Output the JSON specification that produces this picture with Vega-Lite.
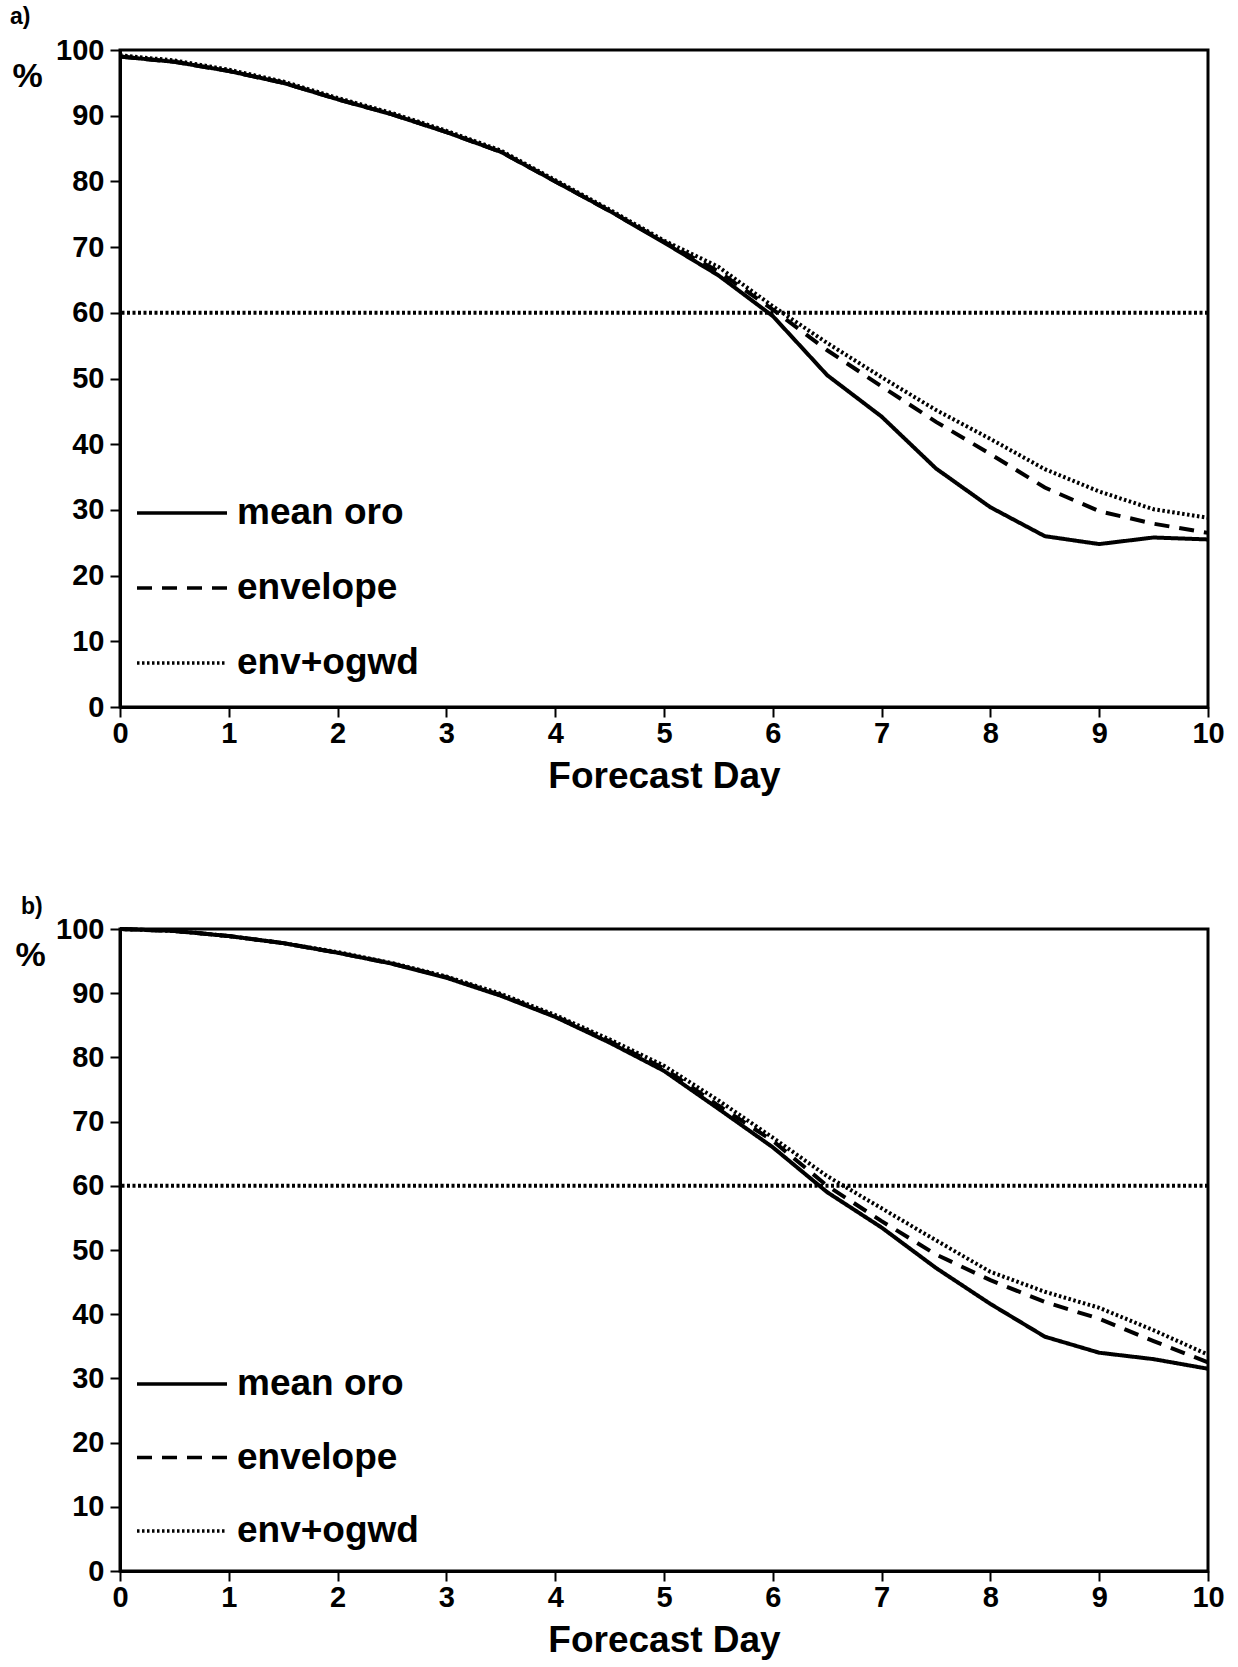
{
  "$schema": "https://vega.github.io/schema/vega-lite/v6.json",
  "background": "white",
  "padding": {"left": 8, "top": 4, "right": 20, "bottom": 10},
  "config": {
    "font": "Liberation Sans",
    "view": {"stroke": "black", "strokeWidth": 3},
    "axis": {
      "domainColor": "black", "domainWidth": 3, "tickColor": "black", "tickWidth": 2, "tickSize": 10,
      "labelFont": "Liberation Sans", "labelFontSize": 29, "labelFontWeight": "bold", "labelColor": "black", "labelFlush": false,
      "titleFont": "Liberation Sans", "titleFontWeight": "bold", "titleColor": "black", "grid": false
    },
    "title": {"font": "Liberation Sans", "fontSize": 23, "fontWeight": "bold", "color": "black"}
  },
  "datasets": {
    "a": [
      {"day": 0, "value": 99, "series": "mean oro"}, {"day": 0.5, "value": 98.2, "series": "mean oro"}, {"day": 1, "value": 96.8, "series": "mean oro"}, {"day": 1.5, "value": 95, "series": "mean oro"}, {"day": 2, "value": 92.5, "series": "mean oro"}, {"day": 2.5, "value": 90.2, "series": "mean oro"}, {"day": 3, "value": 87.5, "series": "mean oro"}, {"day": 3.5, "value": 84.5, "series": "mean oro"}, {"day": 4, "value": 80, "series": "mean oro"}, {"day": 4.5, "value": 75.5, "series": "mean oro"}, {"day": 5, "value": 70.7, "series": "mean oro"}, {"day": 5.5, "value": 65.7, "series": "mean oro"}, {"day": 6, "value": 59.5, "series": "mean oro"}, {"day": 6.5, "value": 50.5, "series": "mean oro"}, {"day": 7, "value": 44.2, "series": "mean oro"}, {"day": 7.5, "value": 36.3, "series": "mean oro"}, {"day": 8, "value": 30.4, "series": "mean oro"}, {"day": 8.5, "value": 26, "series": "mean oro"}, {"day": 9, "value": 24.8, "series": "mean oro"}, {"day": 9.5, "value": 25.8, "series": "mean oro"}, {"day": 10, "value": 25.5, "series": "mean oro"},
      {"day": 0, "value": 99, "series": "envelope"}, {"day": 0.5, "value": 98.2, "series": "envelope"}, {"day": 1, "value": 96.8, "series": "envelope"}, {"day": 1.5, "value": 95, "series": "envelope"}, {"day": 2, "value": 92.5, "series": "envelope"}, {"day": 2.5, "value": 90.2, "series": "envelope"}, {"day": 3, "value": 87.5, "series": "envelope"}, {"day": 3.5, "value": 84.5, "series": "envelope"}, {"day": 4, "value": 80, "series": "envelope"}, {"day": 4.5, "value": 75.5, "series": "envelope"}, {"day": 5, "value": 70.8, "series": "envelope"}, {"day": 5.5, "value": 66.3, "series": "envelope"}, {"day": 6, "value": 60.5, "series": "envelope"}, {"day": 6.5, "value": 54.3, "series": "envelope"}, {"day": 7, "value": 48.8, "series": "envelope"}, {"day": 7.5, "value": 43.4, "series": "envelope"}, {"day": 8, "value": 38.5, "series": "envelope"}, {"day": 8.5, "value": 33.4, "series": "envelope"}, {"day": 9, "value": 29.8, "series": "envelope"}, {"day": 9.5, "value": 27.9, "series": "envelope"}, {"day": 10, "value": 26.5, "series": "envelope"},
      {"day": 0, "value": 99.2, "series": "env+ogwd"}, {"day": 0.5, "value": 98.4, "series": "env+ogwd"}, {"day": 1, "value": 97, "series": "env+ogwd"}, {"day": 1.5, "value": 95.2, "series": "env+ogwd"}, {"day": 2, "value": 92.7, "series": "env+ogwd"}, {"day": 2.5, "value": 90.4, "series": "env+ogwd"}, {"day": 3, "value": 87.7, "series": "env+ogwd"}, {"day": 3.5, "value": 84.7, "series": "env+ogwd"}, {"day": 4, "value": 80.2, "series": "env+ogwd"}, {"day": 4.5, "value": 75.7, "series": "env+ogwd"}, {"day": 5, "value": 71, "series": "env+ogwd"}, {"day": 5.5, "value": 67, "series": "env+ogwd"}, {"day": 6, "value": 61, "series": "env+ogwd"}, {"day": 6.5, "value": 55.4, "series": "env+ogwd"}, {"day": 7, "value": 50.2, "series": "env+ogwd"}, {"day": 7.5, "value": 45.2, "series": "env+ogwd"}, {"day": 8, "value": 40.8, "series": "env+ogwd"}, {"day": 8.5, "value": 36.2, "series": "env+ogwd"}, {"day": 9, "value": 32.8, "series": "env+ogwd"}, {"day": 9.5, "value": 30.1, "series": "env+ogwd"}, {"day": 10, "value": 28.8, "series": "env+ogwd"}
    ],
    "b": [
      {"day": 0, "value": 100, "series": "mean oro"}, {"day": 0.5, "value": 99.7, "series": "mean oro"}, {"day": 1, "value": 98.9, "series": "mean oro"}, {"day": 1.5, "value": 97.8, "series": "mean oro"}, {"day": 2, "value": 96.3, "series": "mean oro"}, {"day": 2.5, "value": 94.6, "series": "mean oro"}, {"day": 3, "value": 92.4, "series": "mean oro"}, {"day": 3.5, "value": 89.6, "series": "mean oro"}, {"day": 4, "value": 86.3, "series": "mean oro"}, {"day": 4.5, "value": 82.3, "series": "mean oro"}, {"day": 5, "value": 77.9, "series": "mean oro"}, {"day": 5.5, "value": 72, "series": "mean oro"}, {"day": 6, "value": 66, "series": "mean oro"}, {"day": 6.5, "value": 59, "series": "mean oro"}, {"day": 7, "value": 53.5, "series": "mean oro"}, {"day": 7.5, "value": 47.2, "series": "mean oro"}, {"day": 8, "value": 41.6, "series": "mean oro"}, {"day": 8.5, "value": 36.5, "series": "mean oro"}, {"day": 9, "value": 34, "series": "mean oro"}, {"day": 9.5, "value": 33, "series": "mean oro"}, {"day": 10, "value": 31.5, "series": "mean oro"},
      {"day": 0, "value": 100, "series": "envelope"}, {"day": 0.5, "value": 99.7, "series": "envelope"}, {"day": 1, "value": 98.9, "series": "envelope"}, {"day": 1.5, "value": 97.8, "series": "envelope"}, {"day": 2, "value": 96.3, "series": "envelope"}, {"day": 2.5, "value": 94.6, "series": "envelope"}, {"day": 3, "value": 92.5, "series": "envelope"}, {"day": 3.5, "value": 89.7, "series": "envelope"}, {"day": 4, "value": 86.4, "series": "envelope"}, {"day": 4.5, "value": 82.5, "series": "envelope"}, {"day": 5, "value": 78.3, "series": "envelope"}, {"day": 5.5, "value": 72.5, "series": "envelope"}, {"day": 6, "value": 67, "series": "envelope"}, {"day": 6.5, "value": 60, "series": "envelope"}, {"day": 7, "value": 54.5, "series": "envelope"}, {"day": 7.5, "value": 49.3, "series": "envelope"}, {"day": 8, "value": 45.3, "series": "envelope"}, {"day": 8.5, "value": 41.9, "series": "envelope"}, {"day": 9, "value": 39.3, "series": "envelope"}, {"day": 9.5, "value": 35.8, "series": "envelope"}, {"day": 10, "value": 32.5, "series": "envelope"},
      {"day": 0, "value": 100, "series": "env+ogwd"}, {"day": 0.5, "value": 99.7, "series": "env+ogwd"}, {"day": 1, "value": 98.9, "series": "env+ogwd"}, {"day": 1.5, "value": 97.8, "series": "env+ogwd"}, {"day": 2, "value": 96.4, "series": "env+ogwd"}, {"day": 2.5, "value": 94.7, "series": "env+ogwd"}, {"day": 3, "value": 92.6, "series": "env+ogwd"}, {"day": 3.5, "value": 89.9, "series": "env+ogwd"}, {"day": 4, "value": 86.6, "series": "env+ogwd"}, {"day": 4.5, "value": 82.8, "series": "env+ogwd"}, {"day": 5, "value": 78.7, "series": "env+ogwd"}, {"day": 5.5, "value": 73.3, "series": "env+ogwd"}, {"day": 6, "value": 67.5, "series": "env+ogwd"}, {"day": 6.5, "value": 61.5, "series": "env+ogwd"}, {"day": 7, "value": 56.5, "series": "env+ogwd"}, {"day": 7.5, "value": 51.5, "series": "env+ogwd"}, {"day": 8, "value": 46.6, "series": "env+ogwd"}, {"day": 8.5, "value": 43.5, "series": "env+ogwd"}, {"day": 9, "value": 41, "series": "env+ogwd"}, {"day": 9.5, "value": 37.5, "series": "env+ogwd"}, {"day": 10, "value": 33.7, "series": "env+ogwd"}
    ]
  },
  "vconcat": [
    {
      "width": 1088, "height": 657,
      "title": {"text": "a)", "anchor": "start", "frame": "group", "dx": -110, "offset": 7},
      "layer": [
        {"data": {"values": [{}]}, "mark": {"type": "rule", "color": "black", "strokeWidth": 4, "strokeDash": [3, 2.5]}, "encoding": {"y": {"datum": 60, "type": "quantitative"}}},
        {
          "data": {"name": "a"},
          "mark": {"type": "line", "color": "black", "strokeWidth": 4},
          "encoding": {
            "x": {"field": "day", "type": "quantitative", "scale": {"domain": [0, 10], "nice": false},
                  "axis": {"values": [0,1,2,3,4,5,6,7,8,9,10], "title": "Forecast Day", "titleFontSize": 37, "titlePadding": 10, "labelPadding": 2}},
            "y": {"field": "value", "type": "quantitative", "scale": {"domain": [0, 100], "nice": false},
                  "axis": {"values": [0,10,20,30,40,50,60,70,80,90,100], "title": "%", "titleAngle": 0, "titleFontSize": 34, "titleX": -93, "titleY": 26, "titleAlign": "center", "titleBaseline": "middle", "labelPadding": 6}},
            "strokeDash": {"field": "series", "type": "nominal",
              "scale": {"domain": ["mean oro", "envelope", "env+ogwd"], "range": [[1, 0], [15, 10], [2.5, 2.5]]},
              "legend": {"orient": "none", "legendX": 15, "legendY": 416, "title": null, "symbolType": "stroke", "symbolSize": 8100, "symbolStrokeWidth": 3.5, "symbolStrokeColor": "black", "labelFontSize": 37, "labelFontWeight": "bold", "labelColor": "black", "labelFont": "Liberation Sans", "labelLimit": 0, "rowPadding": 10, "labelOffset": 8, "padding": 0}}
          }
        }
      ]
    },
    {
      "width": 1088, "height": 642,
      "title": {"text": "b)", "anchor": "start", "frame": "group", "dx": -99, "offset": -4},
      "layer": [
        {"data": {"values": [{}]}, "mark": {"type": "rule", "color": "black", "strokeWidth": 4, "strokeDash": [3, 2.5]}, "encoding": {"y": {"datum": 60, "type": "quantitative"}}},
        {
          "data": {"name": "b"},
          "mark": {"type": "line", "color": "black", "strokeWidth": 4},
          "encoding": {
            "x": {"field": "day", "type": "quantitative", "scale": {"domain": [0, 10], "nice": false},
                  "axis": {"values": [0,1,2,3,4,5,6,7,8,9,10], "title": "Forecast Day", "titleFontSize": 37, "titlePadding": 10, "labelPadding": 2}},
            "y": {"field": "value", "type": "quantitative", "scale": {"domain": [0, 100], "nice": false},
                  "axis": {"values": [0,10,20,30,40,50,60,70,80,90,100], "title": "%", "titleAngle": 0, "titleFontSize": 34, "titleX": -90, "titleY": 26, "titleAlign": "center", "titleBaseline": "middle", "labelPadding": 6}},
            "strokeDash": {"field": "series", "type": "nominal",
              "scale": {"domain": ["mean oro", "envelope", "env+ogwd"], "range": [[1, 0], [15, 10], [2.5, 2.5]]},
              "legend": {"orient": "none", "legendX": 15, "legendY": 408, "title": null, "symbolType": "stroke", "symbolSize": 8100, "symbolStrokeWidth": 3.5, "symbolStrokeColor": "black", "labelFontSize": 37, "labelFontWeight": "bold", "labelColor": "black", "labelFont": "Liberation Sans", "labelLimit": 0, "rowPadding": 8.5, "labelOffset": 8, "padding": 0}}
          }
        }
      ]
    }
  ],
  "spacing": 98,
  "resolve": {"scale": {"strokeDash": "independent"}, "legend": {"strokeDash": "independent"}}
}
